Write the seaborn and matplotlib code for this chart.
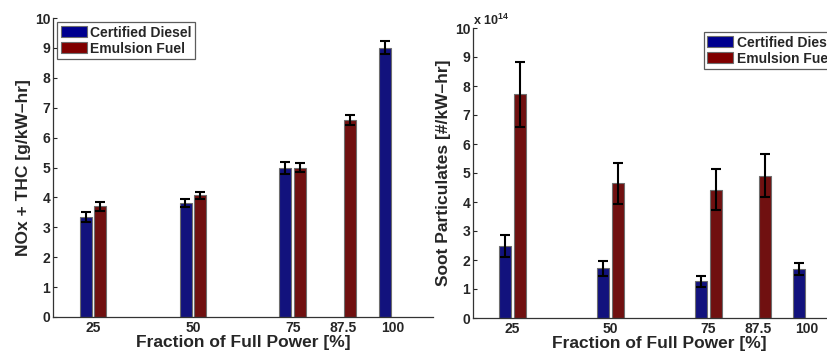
import pandas as pd
import numpy as np
import seaborn as sns
import matplotlib.pyplot as plt
from matplotlib.patches import Patch
from matplotlib.ticker import ScalarFormatter

# ---- data ----
power = [25, 50, 75, 87.5, 100]
power_labels = ["25", "50", "75", "87.5", "100"]
fuels = ["Certified Diesel", "Emulsion Fuel"]
fuel_colors = ["#00008F", "#800000"]

# NOx + THC [g/kW-hr]  (None = not measured)
nox_diesel = [3.35, 3.81, 4.98, None, 9.00]
nox_diesel_err = [0.17, 0.14, 0.20, None, 0.22]
nox_emulsion = [3.70, 4.07, 5.00, 6.60, None]
nox_emulsion_err = [0.15, 0.12, 0.16, 0.17, None]

# Soot particulates [#/kW-hr]
soot_diesel = [2.47e14, 1.72e14, 1.26e14, None, 1.69e14]
soot_diesel_err = [0.38e14, 0.26e14, 0.18e14, None, 0.22e14]
soot_emulsion = [7.72e14, 4.64e14, 4.43e14, 4.90e14, None]
soot_emulsion_err = [1.12e14, 0.70e14, 0.70e14, 0.74e14, None]


def long_table(diesel, diesel_err, emulsion, emulsion_err):
    rows = []
    for fuel, vals, errs in [(fuels[0], diesel, diesel_err), (fuels[1], emulsion, emulsion_err)]:
        for p, v, e in zip(power, vals, errs):
            if v is not None:
                rows.append({"power": p, "fuel": fuel, "value": v, "err": e})
    return pd.DataFrame(rows)


def bar_panel(ax, df, ylabel, legend_loc):
    sns.barplot(data=df, x="power", y="value", hue="fuel", hue_order=fuels,
                palette=fuel_colors, native_scale=True, width=0.6, gap=0.2,
                errorbar=None, edgecolor="#6e6e6e", linewidth=0.8,
                legend=False, ax=ax)
    # error bars on top of the seaborn bars
    for fuel, container in zip(fuels, ax.containers):
        sub = df[df["fuel"] == fuel].sort_values("power")
        for bar, err in zip(container, sub["err"]):
            ax.errorbar(bar.get_x() + bar.get_width() / 2, bar.get_height(), yerr=err,
                        fmt="none", ecolor="black", elinewidth=1.5,
                        capsize=3.5, capthick=1.5, zorder=5)
    ax.set_xlim(15, 110)
    ax.set_xticks(power)
    ax.set_xticklabels(power_labels)
    ax.set_xlabel("Fraction of Full Power [%]", fontsize=12.5, fontweight="bold", labelpad=0)
    ax.set_ylabel(ylabel, fontsize=12.5, fontweight="bold", labelpad=3)
    ax.tick_params(axis="both", direction="in", length=3, labelsize=10, pad=2)
    ax.tick_params(axis="x", length=0, pad=3)
    sns.despine(ax=ax)
    for s in ["left", "bottom"]:
        ax.spines[s].set_color("#333333")
        ax.spines[s].set_linewidth(0.9)
    handles = [Patch(facecolor=c, edgecolor="#6e6e6e", linewidth=0.8) for c in fuel_colors]
    leg = ax.legend(handles, fuels, loc=legend_loc, fontsize=10, frameon=True,
                    fancybox=False, edgecolor="#333333", borderaxespad=0.3,
                    handlelength=1.9, handleheight=0.85, handletextpad=0.25,
                    labelspacing=0.15, borderpad=0.25)
    leg.get_frame().set_linewidth(0.9)
    for t in leg.get_texts():
        t.set_fontweight("bold")


sns.set_style("ticks")
plt.rcParams["font.family"] = ["Liberation Sans", "DejaVu Sans"]
plt.rcParams["font.weight"] = "bold"
plt.rcParams["mathtext.default"] = "regular"

fig = plt.figure(figsize=(8.28, 3.54), dpi=100)
ax1 = fig.add_axes([53 / 828, 1 - 317 / 354, 380 / 828, 299 / 354])
ax2 = fig.add_axes([473 / 828, 1 - 318 / 354, 373 / 828, 290 / 354])

nox_df = long_table(nox_diesel, nox_diesel_err, nox_emulsion, nox_emulsion_err)
soot_df = long_table(soot_diesel, soot_diesel_err, soot_emulsion, soot_emulsion_err)

bar_panel(ax1, nox_df, "NOx + THC [g/kW\u2013hr]", "upper left")
ax1.set_ylim(0, 10)
ax1.set_yticks(range(0, 11))

bar_panel(ax2, soot_df, "Soot Particulates [#/kW\u2013hr]", "upper right")
ax2.set_ylim(0, 1e15)
ax2.set_yticks(np.arange(0, 11) * 1e14)
fmt = ScalarFormatter()
fmt.set_powerlimits((14, 14))
ax2.yaxis.set_major_formatter(fmt)
ax2.yaxis.get_offset_text().set_visible(False)
ax2.text(0.0, 1.0, "x 10$^{14}$", transform=ax2.transAxes, fontsize=9,
         fontweight="bold", ha="left", va="bottom")

fig.savefig("out.png", dpi=100)
